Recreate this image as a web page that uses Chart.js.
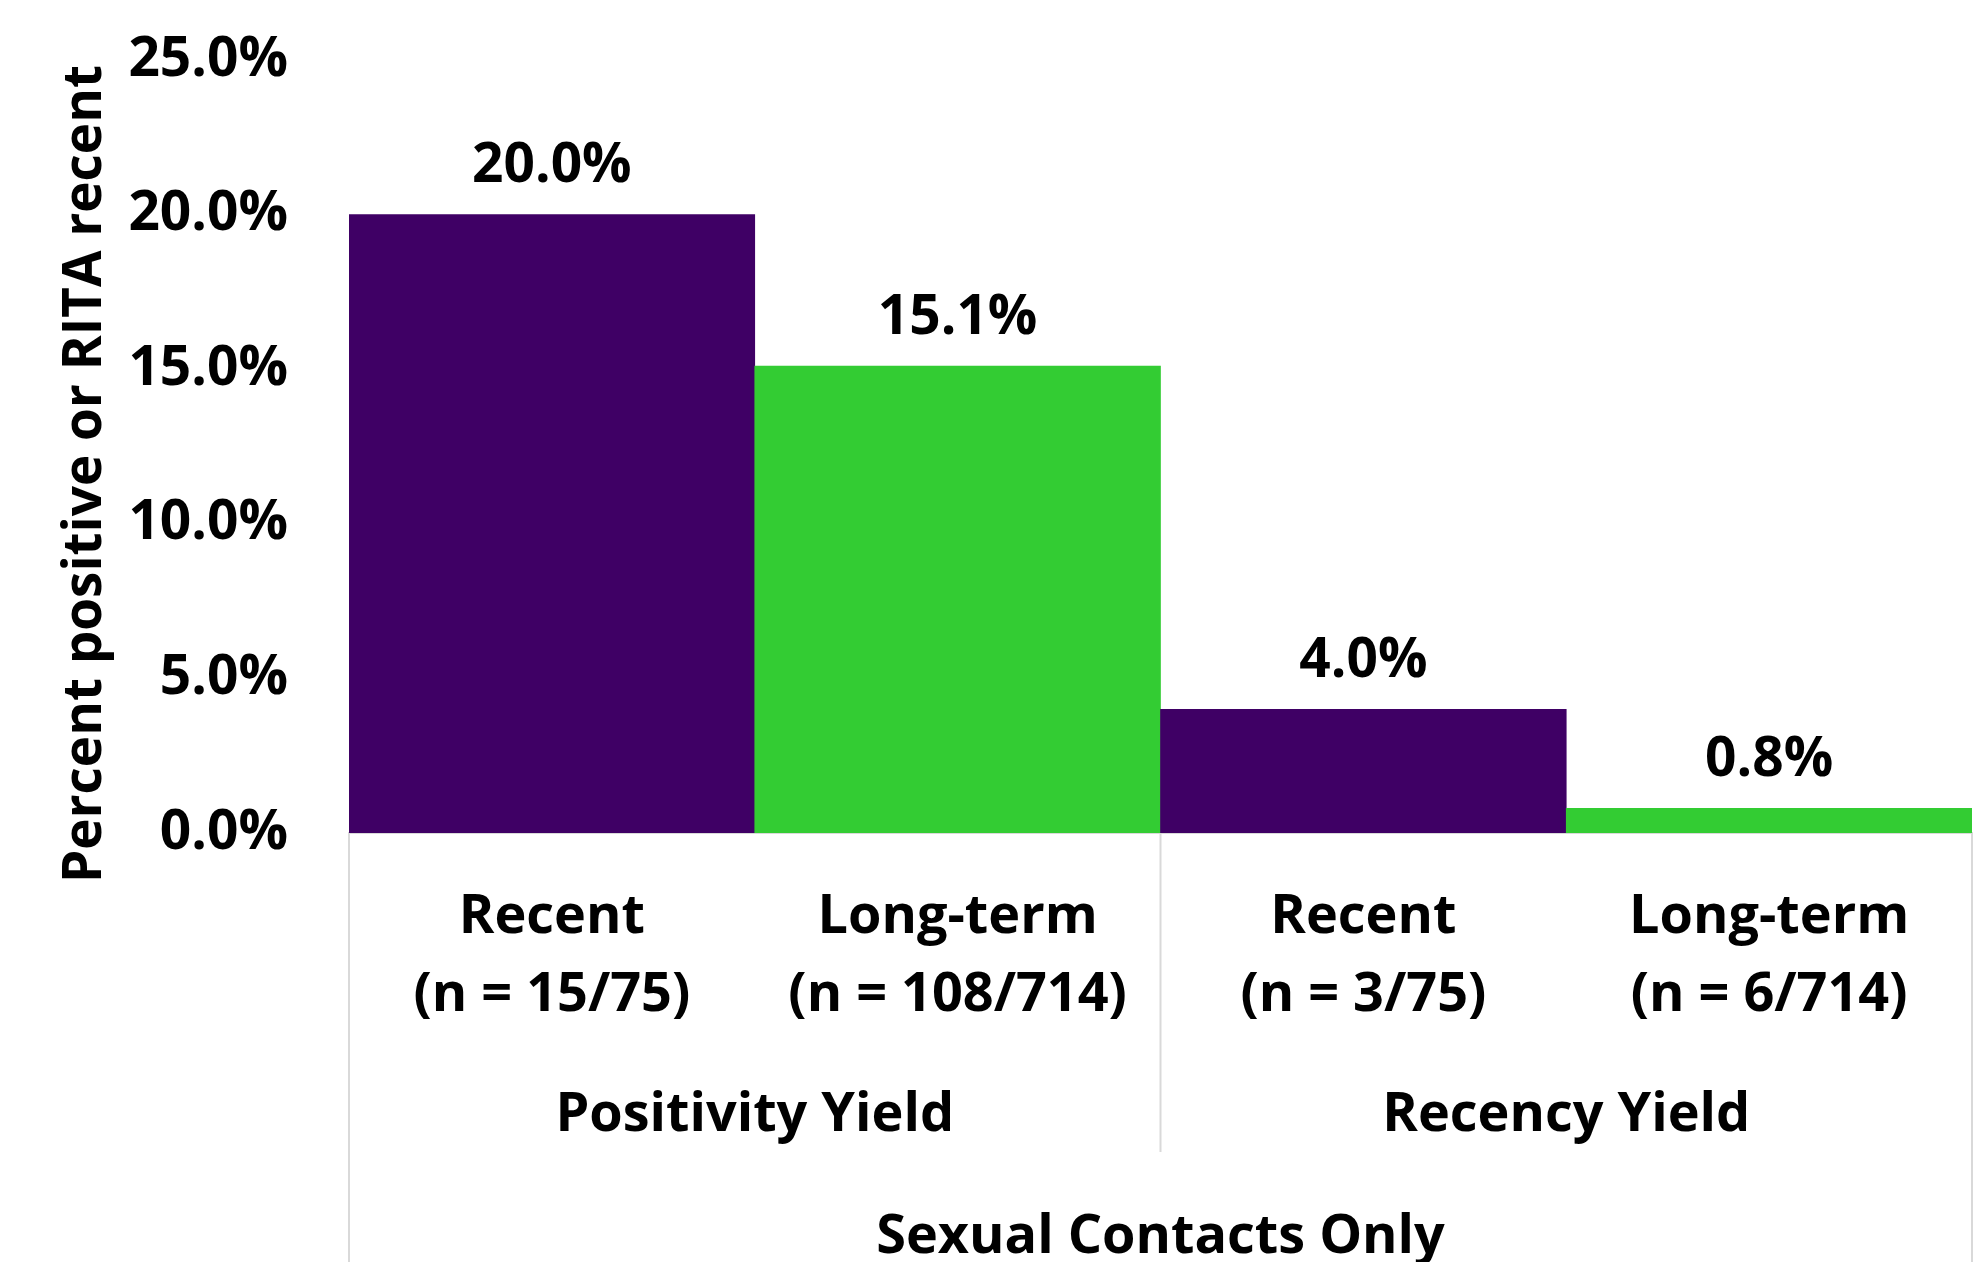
<!DOCTYPE html>
<html>
<head>
<meta charset="utf-8">
<script src="https://cdn.jsdelivr.net/npm/chart.js"></script>
<style>
    body { margin: 0; background: #fff; overflow: hidden; }
</style>
</head>
<body>
<canvas id="grafico" width="1978" height="1262"></canvas>
<script>
const categorias = [
    ['Recent', '(n = 15/75)'],
    ['Long-term', '(n = 108/714)'],
    ['Recent', '(n = 3/75)'],
    ['Long-term', '(n = 6/714)']
];
const grupos = ['Positivity Yield', 'Recency Yield'];
const valores = [20.0, 15.1, 4.0, 0.8];
const cores = ['#3f0065', '#33cc33', '#3f0065', '#33cc33'];
const yMax = 25;
const yPasso = 5;

const fonte = "'Open Sans', sans-serif";

// rotulos em cima das barras
const rotulos = {
    id: 'rotulos',
    afterDatasetsDraw(chart) {
        const c = chart.ctx;
        const meta = chart.getDatasetMeta(0);
        c.save();
        c.fillStyle = '#000';
        c.font = 'bold 55px ' + fonte;
        c.textAlign = 'center';
        c.textBaseline = 'middle';
        meta.data.forEach((barra, i) => {
            c.fillText(valores[i].toFixed(1) + '%', barra.x, barra.y - 48);
        });
        c.restore();
    }
};

// linhas que separam os grupos no eixo x
const separadores = {
    id: 'separadores',
    afterDraw(chart) {
        const c = chart.ctx;
        const x = chart.scales.x;
        const x2 = chart.scales.x2;
        const meio = (x.getPixelForValue(1) + x.getPixelForValue(2)) / 2;
        c.save();
        c.strokeStyle = '#d9d9d9';
        c.lineWidth = 2;
        c.beginPath();
        c.moveTo(x.left, x.top);
        c.lineTo(x.left, chart.height);
        c.moveTo(x.right, x.top);
        c.lineTo(x.right, chart.height);
        c.moveTo(meio, x.top);
        c.lineTo(meio, x2.bottom - 110);
        c.stroke();
        c.restore();
    }
};

const ctx = document.getElementById('grafico');

new Chart(ctx, {
    type: 'bar',
    data: {
        labels: categorias,
        datasets: [
            {
                data: valores,
                backgroundColor: cores,
                borderWidth: 0,
                categoryPercentage: 1,
                barPercentage: 1
            }
        ]
    },
    options: {
        responsive: false,
        animation: false,
        layout: { padding: { top: 60, right: 6, left: 0, bottom: 0 } },
        plugins: {
            legend: { display: false },
            tooltip: { enabled: false }
        },
        scales: {
            x: {
                grid: { display: false, drawTicks: false },
                border: { display: true, color: '#d9d9d9', width: 2 },
                ticks: {
                    color: '#000',
                    font: { family: fonte, size: 54, weight: 'bold', lineHeight: 1.44 },
                    padding: 46,
                    maxRotation: 0,
                    autoSkip: false
                },
                afterFit: s => { s.height = 243; }
            },
            x2: {
                type: 'category',
                position: 'bottom',
                labels: grupos,
                offset: true,
                grid: { display: false, drawTicks: false },
                border: { display: false },
                ticks: {
                    color: '#000',
                    font: { family: fonte, size: 54, weight: 'bold', lineHeight: 1.42 },
                    padding: 1,
                    maxRotation: 0,
                    autoSkip: false
                },
                title: {
                    display: true,
                    text: 'Sexual Contacts Only',
                    color: '#000',
                    font: { family: fonte, size: 54, weight: 'bold', lineHeight: 1 },
                    padding: { top: 0, bottom: -3 }
                },
                afterFit: s => { s.height = 186; }
            },
            y: {
                min: 0,
                max: yMax,
                grid: { display: false, drawTicks: false },
                border: { display: false },
                ticks: {
                    stepSize: yPasso,
                    color: '#000',
                    font: { family: fonte, size: 55, weight: 'bold' },
                    padding: 61,
                    callback: v => v.toFixed(1) + '%'
                },
                title: {
                    display: true,
                    text: 'Percent positive or RITA recent    ',
                    color: '#000',
                    font: { family: fonte, size: 53, weight: 'bold', lineHeight: 1.2 },
                    padding: { top: 54, bottom: 0 }
                },
                afterFit: s => {
                    s.width = 349;
                    s.paddingTop = 0;
                    s.paddingBottom = 0;
                }
            }
        }
    },
    plugins: [rotulos, separadores]
});
</script>
</body>
</html>
